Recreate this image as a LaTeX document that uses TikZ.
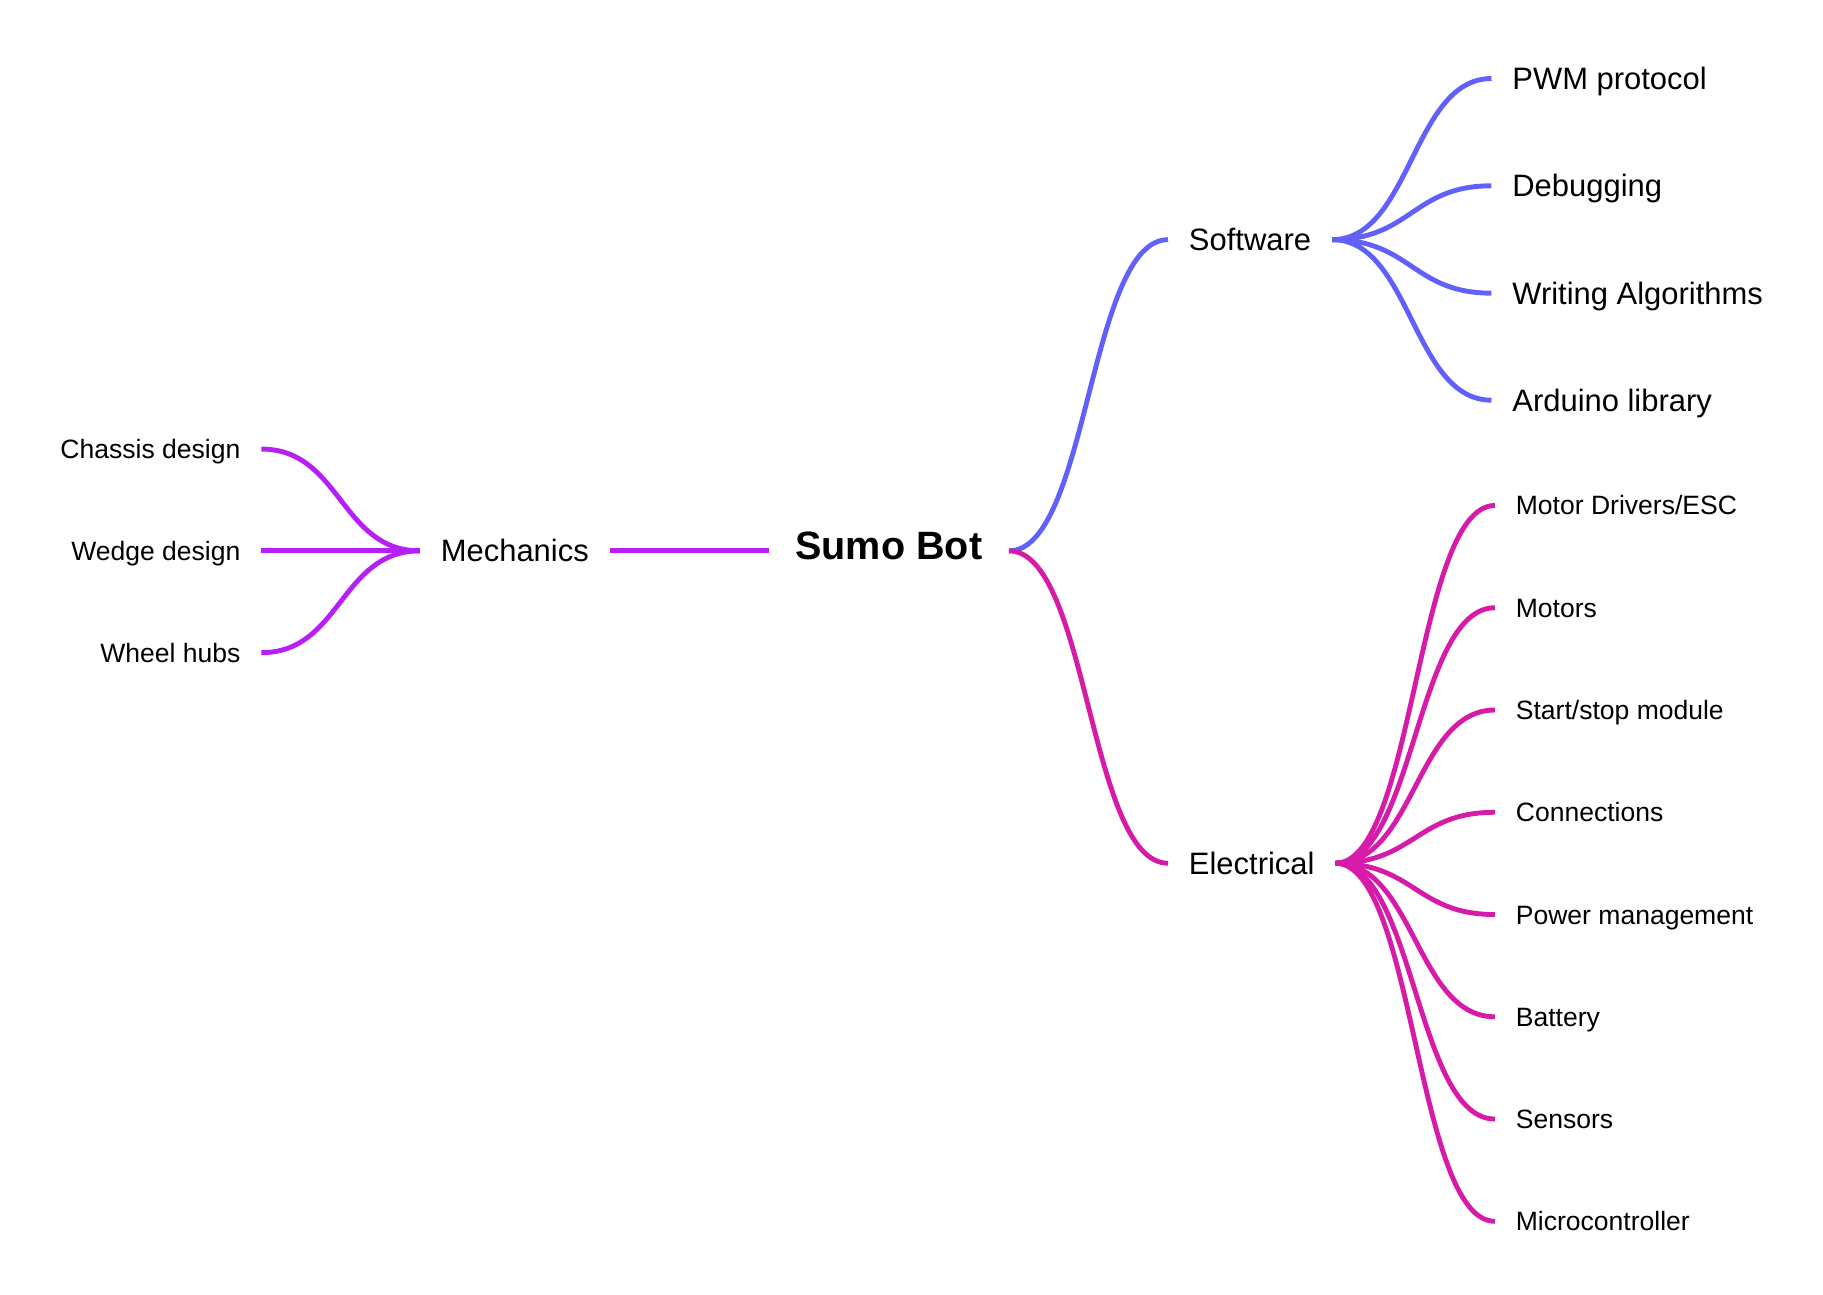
\documentclass[tikz,border=0pt]{standalone}
\usepackage{fontspec}
\setmainfont{Liberation Sans}
\definecolor{swc}{RGB}{98,96,250}
\definecolor{elc}{RGB}{214,27,168}
\definecolor{mec}{RGB}{182,32,247}
\begin{document}
\begin{tikzpicture}[x=0.5pt,y=-0.5pt,
  base/.style={inner ysep=0pt, inner xsep=9pt, text depth=0pt, outer sep=0pt},
  small/.style={base, font=\fontsize{11.4}{13}\selectfont, text height=8.16pt},
  medium/.style={base, font=\fontsize{13.3}{15}\selectfont, text height=9.52pt},
  big/.style={base, font=\bfseries\fontsize{17}{20}\selectfont, text height=7.2pt, inner xsep=11.5pt},
  link/.style={line width=2.1pt, line cap=butt},
  swlink/.style={link, draw=swc},
  ellink/.style={link, draw=elc},
  melink/.style={link, draw=mec}
]
\useasboundingbox (0,0) rectangle (1567,1113);

% central node and main branches
\node[big] (sumo) at (764,473.5) {Sumo Bot};
\node[medium] (mech) at (442.5,473.5) {Mechanics};
\node[medium, anchor=west] (sw) at (1004,206) {Software};
\node[medium, anchor=west] (el) at (1004,742) {Electrical};

% mechanics children
\node[small, anchor=east] (chassis) at (224.6,386) {Chassis design};
\node[small, anchor=east] (wedge) at (224.6,473.5) {Wedge design};
\node[small, anchor=east] (wheel) at (224.6,561) {Wheel hubs};

% software children
\node[medium, anchor=west] (pwm) at (1282,67.5) {PWM protocol};
\node[medium, anchor=west] (debug) at (1282,159.7) {Debugging};
\node[medium, anchor=west] (algo) at (1282,252) {Writing Algorithms};
\node[medium, anchor=west] (ardu) at (1282,344) {Arduino library};

% electrical children
\node[small, anchor=west] (mdrv) at (1285,434.5) {Motor Drivers/ESC};
\node[small, anchor=west] (motors) at (1285,522.4) {Motors};
\node[small, anchor=west] (start) at (1285,610.3) {Start/stop module};
\node[small, anchor=west] (conn) at (1285,698.2) {Connections};
\node[small, anchor=west] (power) at (1285,786.1) {Power management};
\node[small, anchor=west] (batt) at (1285,874) {Battery};
\node[small, anchor=west] (sens) at (1285,961.9) {Sensors};
\node[small, anchor=west] (micro) at (1285,1049.8) {Microcontroller};

% connectors
\draw[melink] (mech.east) -- (sumo.west);
\draw[swlink] (sumo.east) .. controls +(68,0) and +(-68,0) .. (sw.west);
\draw[ellink] (sumo.east) .. controls +(68,0) and +(-68,0) .. (el.west);

\foreach \c in {chassis,wedge,wheel}
  \draw[melink] (mech.west) .. controls +(-68.5,0) and +(68.5,0) .. (\c.east);

\foreach \c in {pwm,debug,algo,ardu}
  \draw[swlink] (sw.east) .. controls +(68,0) and +(-68,0) .. (\c.west);

\foreach \c in {mdrv,motors,start,conn,power,batt,sens,micro}
  \draw[ellink] (el.east) .. controls +(68,0) and +(-68,0) .. (\c.west);
\end{tikzpicture}
\end{document}
